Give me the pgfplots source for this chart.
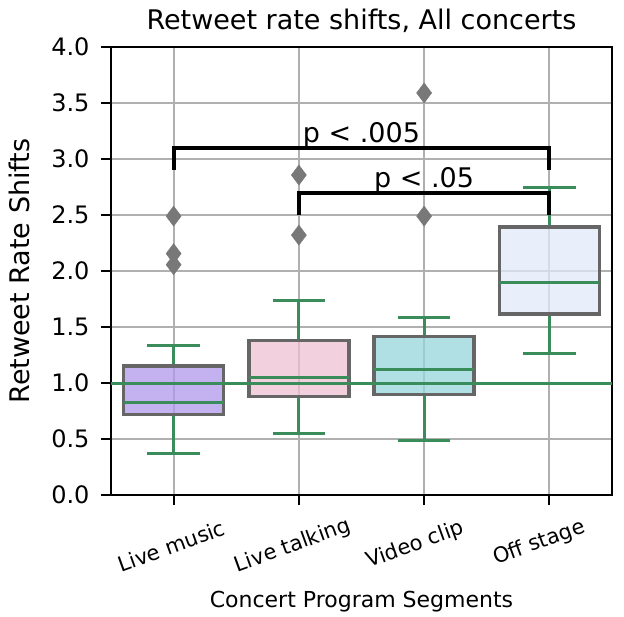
\documentclass[border=0pt]{standalone}
\usepackage{pgfplots}
\pgfplotsset{compat=1.18}
\usepgfplotslibrary{statistics}
\usepackage{fontspec}
\setmainfont{DejaVu Sans}
\definecolor{sgreen}{RGB}{58,140,90}
\definecolor{boxedge}{RGB}{102,102,102}
\definecolor{outg}{RGB}{120,120,120}
\definecolor{gridg}{RGB}{176,176,176}
\definecolor{purp}{RGB}{176,152,235}
\definecolor{pinkc}{RGB}{238,192,210}
\definecolor{cyanc}{RGB}{150,214,219}
\definecolor{lblue}{RGB}{224,234,248}
\newcommand{\fs}[1]{\fontsize{#1bp}{1.2\dimexpr #1bp\relax}\selectfont}
\begin{document}
\begin{tikzpicture}
\begin{axis}[
  at={(0,0)}, anchor=south west,
  width=501bp, height=448bp, scale only axis,
  xmin=-0.5, xmax=3.5, ymin=0, ymax=4,
  xtick={0,1,2,3}, xticklabels={,,,},
  ytick={0,0.5,1,1.5,2,2.5,3,3.5,4},
  yticklabel style={/pgf/number format/fixed, /pgf/number format/fixed zerofill, /pgf/number format/precision=1, /pgf/number format/assume math mode=true, font=\fs{24}, xshift=-8bp},
  grid=major, major grid style={color=gridg, line width=2bp},
  axis line style={black, line width=2.5bp},
  tick align=outside, major tick length=10bp,
  tick style={black, line width=2bp},
  xtick pos=bottom, ytick pos=left,
  boxplot/draw direction=y,
  boxplot/box extend=0.8, boxplot/whisker extend=0.42,
  boxplot/every whisker/.style={draw=sgreen, line width=3bp},
  boxplot/every median/.style={draw=sgreen, line width=3bp},
]
\addplot[boxplot prepared={draw position=0, lower whisker=0.369, lower quartile=0.717, median=0.83, upper quartile=1.154, upper whisker=1.333},
  boxplot/every box/.style={draw=boxedge, line width=3.5bp, fill=purp, fill opacity=0.75},
  mark=diamond*, mark size=10bp, mark options={draw=outg, fill=outg, line width=0.5bp}]
  table[row sep=\\, y index=0] {y\\ 2.49\\ 2.155\\ 2.056\\};
\addplot[boxplot prepared={draw position=1, lower whisker=0.553, lower quartile=0.88, median=1.05, upper quartile=1.378, upper whisker=1.741},
  boxplot/every box/.style={draw=boxedge, line width=3.5bp, fill=pinkc, fill opacity=0.75},
  mark=diamond*, mark size=10bp, mark options={draw=outg, fill=outg, line width=0.5bp}]
  table[row sep=\\, y index=0] {y\\ 2.857\\ 2.32\\};
\addplot[boxplot prepared={draw position=2, lower whisker=0.485, lower quartile=0.896, median=1.125, upper quartile=1.413, upper whisker=1.589},
  boxplot/every box/.style={draw=boxedge, line width=3.5bp, fill=cyanc, fill opacity=0.75},
  mark=diamond*, mark size=10bp, mark options={draw=outg, fill=outg, line width=0.5bp}]
  table[row sep=\\, y index=0] {y\\ 2.49\\ 3.59\\};
\addplot[boxplot prepared={draw position=3, lower whisker=1.264, lower quartile=1.616, median=1.893, upper quartile=2.393, upper whisker=2.746},
  boxplot/every box/.style={draw=boxedge, line width=3.5bp, fill=lblue, fill opacity=0.75}]
  coordinates {};
\addplot[sgreen, line width=3bp] coordinates {(-0.5,1) (3.5,1)};
\addplot[black, line width=4bp, line join=miter] coordinates {(0,2.9) (0,3.1) (3,3.1) (3,2.9)};
\addplot[black, line width=4bp, line join=miter] coordinates {(1,2.5) (1,2.7) (3,2.7) (3,2.5)};
\node[anchor=base, font=\fs{27}, yshift=5bp] at (axis cs:1.5,3.1) {p < .005};
\node[anchor=base, font=\fs{27}, yshift=5bp] at (axis cs:2,2.7) {p < .05};
\end{axis}
\node[anchor=base, font=\fs{27}] at (250.5bp,465bp) {Retweet rate shifts, All concerts};
\node[anchor=base, font=\fs{22}] at (250.5bp,-112bp) {Concert Program Segments};
\node[anchor=base, rotate=90, font=\fs{27}] at (-81bp,224bp) {Retweet Rate Shifts};
\node[rotate=20, font=\fs{21}] at (60.6bp,-51bp) {Live music};
\node[rotate=20, font=\fs{21}] at (181.9bp,-51bp) {Live talking};
\node[rotate=20, font=\fs{21}] at (304.1bp,-50bp) {Video clip};
\node[rotate=20, font=\fs{21}] at (428.4bp,-48bp) {Off stage};
\pgfresetboundingbox
\path[use as bounding box] (-111bp,-122bp) rectangle (513bp,495bp);
\end{tikzpicture}
\end{document}
